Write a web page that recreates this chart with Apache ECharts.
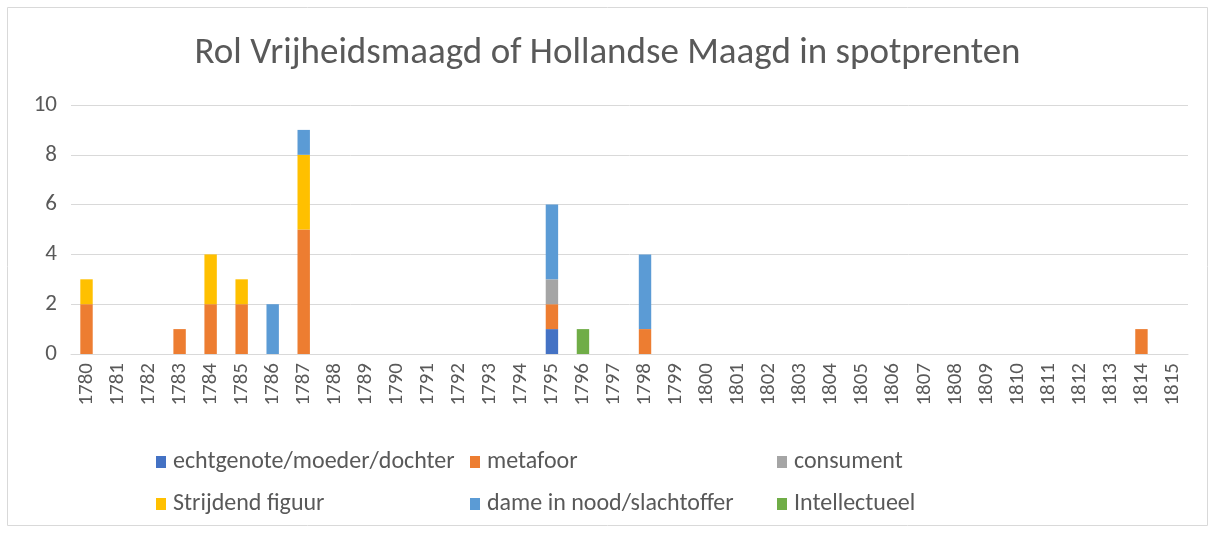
<!DOCTYPE html>
<html><head><meta charset="utf-8">
<script src="https://cdn.jsdelivr.net/npm/echarts@6/dist/echarts.min.js"></script>
<style>html,body{margin:0;padding:0;background:#fff}#c{width:1215px;height:533px}</style>
</head><body><div id="c"></div>
<script>
const categories = [];
for (let y = 1780; y <= 1815; y++) categories.push(String(y));
const seriesNames = ['echtgenote/moeder/dochter','metafoor','consument','Strijdend figuur','dame in nood/slachtoffer','Intellectueel'];
const colors = ['#4472C4','#ED7D31','#A5A5A5','#FFC000','#5B9BD5','#70AD47'];
// values per year (sparse)
const echtgenote = {'1795':1};
const metafoor = {'1780':2,'1783':1,'1784':2,'1785':2,'1787':5,'1795':1,'1798':1,'1814':1};
const consument = {'1795':1};
const strijdend = {'1780':1,'1784':2,'1785':1,'1787':3};
const dame = {'1786':2,'1787':1,'1795':3,'1798':3};
const intellectueel = {'1796':1};
const yTicks = [0,2,4,6,8,10];
const seriesData = [echtgenote, metafoor, consument, strijdend, dame, intellectueel];
const font = 'Carlito, "Liberation Sans", sans-serif';
const chart = echarts.init(document.getElementById('c'));
const legendPos = [[156,450],[470,450],[777,450],[156,492],[470,492],[777,492]];
chart.setOption({
  animation:false,
  title:{text:'Rol Vrijheidsmaagd of Hollandse Maagd in spotprenten',left:'center',top:30,
    textStyle:{fontFamily:font,fontSize:37,fontWeight:'normal',color:'#595959'}},
  graphic:[{type:'rect',shape:{x:7.5,y:7.5,width:1200,height:518},style:{fill:'none',stroke:'#D9D9D9',lineWidth:1},silent:true}],
  grid:{left:71,right:27,top:105,bottom:179},
  legend: seriesNames.map((n,i)=>({data:[n],left:legendPos[i][0],top:legendPos[i][1],padding:0,itemWidth:10,itemHeight:12,itemGap:5,icon:'rect',
    textStyle:{fontFamily:font,fontSize:24,color:'#595959',padding:[0,0,0,2]}})),
  xAxis:{type:'category',data:categories,axisTick:{show:false},
    axisLine:{lineStyle:{color:'#D9D9D9'}},
    axisLabel:{rotate:90,interval:0,fontFamily:font,fontSize:21,color:'#595959',margin:9}},
  yAxis:{type:'value',min:0,max:10,interval:2,
    axisLabel:{fontFamily:font,fontSize:23,color:'#595959',margin:14,formatter:v=>yTicks.includes(v)?String(v):''},
    splitLine:{lineStyle:{color:'#D9D9D9'}}},
  series: seriesNames.map((n,i)=>({name:n,type:'bar',stack:'a',barWidth:'40%',
    itemStyle:{color:colors[i]},
    data:categories.map(c=>seriesData[i][c]||0)}))
});
</script></body></html>
